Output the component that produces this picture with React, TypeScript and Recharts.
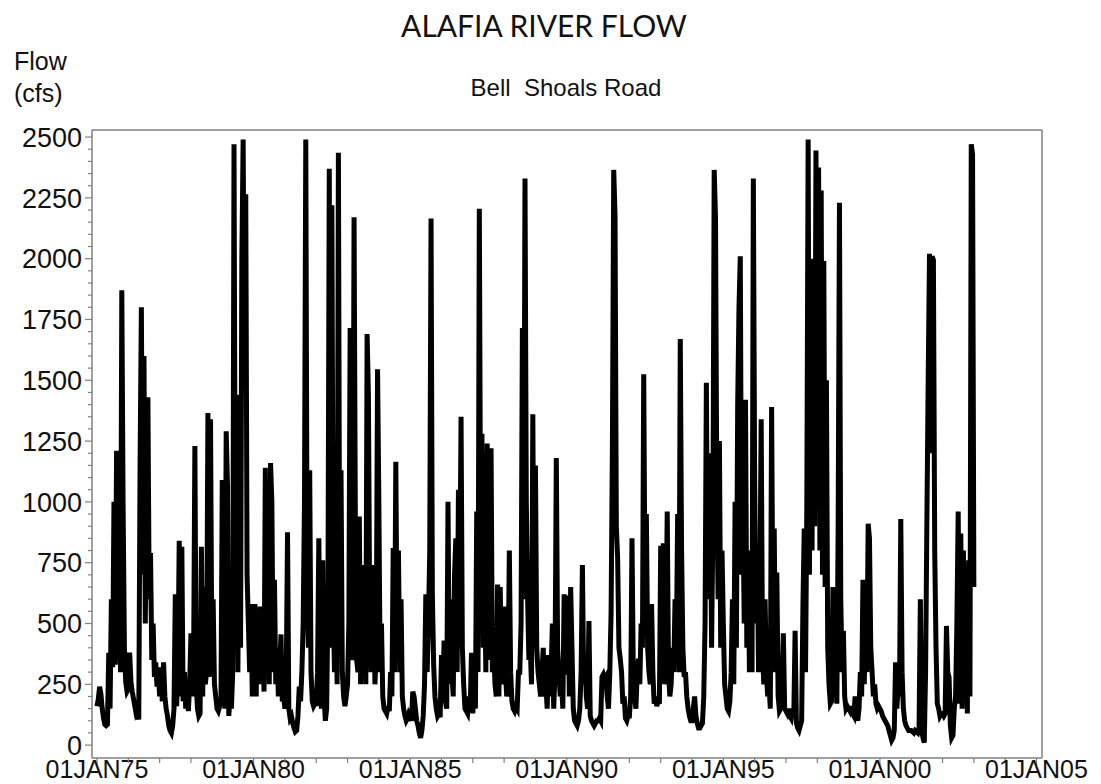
import React from 'react'
import { LineChart, Line, XAxis, YAxis, ReferenceLine } from 'recharts'

// Daily flow, thinned to two readings a month (cfs), 24 values per calendar year
const flow1975 = [160, 190, 240, 210, 150, 110, 85, 80, 85, 380, 150, 600, 320, 1000, 330, 1210, 350, 1200, 300, 1870, 980, 400, 260, 220]
const flow1976 = [230, 380, 260, 220, 190, 160, 130, 140, 105, 1150, 1800, 700, 1600, 500, 1000, 1430, 600, 790, 350, 500, 280, 340, 240, 300]
const flow1977 = [200, 320, 180, 340, 200, 150, 120, 80, 60, 50, 80, 150, 620, 160, 300, 840, 200, 815, 180, 300, 150, 250, 140, 250]
const flow1978 = [460, 200, 300, 1230, 250, 150, 120, 130, 815, 200, 650, 250, 300, 1365, 280, 1340, 350, 600, 250, 200, 150, 140, 160, 180]
const flow1979 = [1090, 250, 150, 1290, 1065, 120, 200, 150, 300, 2470, 700, 1200, 300, 1440, 400, 2000, 2490, 1500, 2265, 700, 500, 300, 580, 200]
const flow1980 = [300, 580, 200, 560, 250, 570, 300, 500, 220, 1140, 300, 600, 250, 1160, 1000, 300, 680, 250, 400, 200, 300, 455, 180, 200]
const flow1981 = [150, 250, 875, 150, 110, 120, 90, 70, 55, 60, 120, 240, 180, 300, 500, 1000, 2490, 700, 400, 1130, 300, 180, 160, 170]
const flow1982 = [170, 300, 850, 250, 150, 760, 200, 100, 150, 600, 2370, 400, 2220, 600, 300, 855, 250, 2435, 500, 1130, 300, 200, 160, 200]
const flow1983 = [250, 500, 1715, 350, 400, 2170, 900, 350, 300, 940, 250, 740, 300, 500, 250, 1690, 1440, 500, 300, 400, 740, 250, 400, 1545]
const flow1984 = [1000, 300, 500, 200, 150, 140, 130, 160, 140, 300, 200, 810, 300, 1165, 400, 800, 300, 600, 200, 150, 120, 100, 110, 130]
const flow1985 = [120, 100, 220, 200, 150, 100, 80, 50, 30, 60, 120, 250, 620, 300, 500, 800, 2165, 620, 330, 200, 150, 120, 130, 115]
const flow1986 = [370, 200, 430, 180, 150, 1000, 250, 600, 300, 200, 700, 850, 300, 1050, 600, 1350, 400, 250, 150, 140, 130, 200, 150, 380]
const flow1987 = [130, 250, 150, 960, 300, 2205, 800, 1280, 400, 700, 300, 1240, 500, 350, 1220, 300, 400, 250, 200, 660, 200, 650, 300, 250]
const flow1988 = [570, 300, 200, 250, 800, 300, 180, 150, 140, 160, 150, 300, 300, 500, 1715, 600, 2330, 1000, 600, 350, 400, 250, 1360, 400]
const flow1989 = [1150, 400, 300, 250, 200, 300, 400, 200, 250, 150, 370, 200, 300, 500, 150, 300, 1180, 400, 300, 200, 250, 150, 620, 300]
const flow1990 = [300, 615, 200, 650, 400, 150, 100, 90, 80, 100, 150, 300, 740, 250, 350, 200, 150, 510, 120, 100, 90, 80, 90, 100]
const flow1991 = [100, 110, 100, 280, 290, 270, 280, 200, 150, 300, 550, 1240, 2365, 2180, 900, 770, 400, 355, 300, 170, 200, 110, 100, 120]
const flow1992 = [120, 200, 850, 300, 200, 150, 300, 355, 250, 500, 400, 1525, 600, 950, 400, 300, 250, 580, 300, 170, 200, 160, 180, 170]
const flow1993 = [820, 300, 830, 250, 400, 960, 300, 200, 250, 400, 300, 600, 400, 950, 300, 1670, 800, 400, 280, 300, 200, 150, 120, 100]
const flow1994 = [100, 150, 200, 120, 90, 70, 70, 80, 90, 200, 500, 1490, 600, 800, 1200, 400, 900, 2365, 2170, 1050, 600, 1250, 400, 800]
const flow1995 = [500, 250, 200, 150, 140, 180, 300, 600, 250, 1000, 400, 1400, 1800, 2010, 700, 1000, 500, 1420, 400, 800, 300, 600, 300, 2330]
const flow1996 = [1100, 500, 800, 300, 600, 1340, 400, 250, 600, 300, 200, 250, 150, 1390, 500, 890, 300, 710, 200, 140, 150, 250, 460, 150]
const flow1997 = [140, 130, 150, 120, 110, 150, 120, 470, 90, 70, 60, 80, 100, 570, 890, 300, 1000, 2490, 700, 1900, 800, 2000, 900, 2445]
const flow1998 = [1100, 2375, 800, 2280, 700, 1990, 650, 1500, 400, 250, 170, 180, 650, 200, 570, 170, 900, 2230, 600, 300, 470, 200, 150, 160]
const flow1999 = [150, 140, 160, 130, 120, 200, 130, 100, 150, 300, 200, 680, 250, 500, 300, 910, 850, 400, 300, 200, 250, 170, 150, 160]
const flow2000 = [150, 140, 120, 110, 100, 90, 80, 60, 40, 20, 30, 60, 340, 150, 250, 200, 930, 300, 150, 100, 80, 70, 60, 60]
const flow2001 = [60, 55, 50, 60, 55, 50, 70, 600, 60, 30, 10, 300, 920, 1500, 2020, 1200, 2010, 1995, 800, 400, 170, 150, 120, 130]
const flow2002 = [130, 120, 130, 490, 300, 280, 80, 30, 40, 150, 200, 500, 960, 170, 870, 150, 800, 180, 640, 130, 760, 200, 2470, 2430]
const flow2003 = [650]

const flowByYear = [
  flow1975, flow1976, flow1977, flow1978, flow1979, flow1980, flow1981, flow1982,
  flow1983, flow1984, flow1985, flow1986, flow1987, flow1988, flow1989, flow1990,
  flow1991, flow1992, flow1993, flow1994, flow1995, flow1996, flow1997, flow1998,
  flow1999, flow2000, flow2001, flow2002, flow2003,
]
const firstYear = 1975
const readingsPerYear = 24

const tickYears = [1975, 1976, 1977, 1978, 1979, 1980, 1981, 1982, 1983, 1984, 1985, 1986, 1987, 1988, 1989, 1990,
  1991, 1992, 1993, 1994, 1995, 1996, 1997, 1998, 1999, 2000, 2001, 2002, 2003, 2004, 2005]
const labelYears = [1975, 1980, 1985, 1990, 1995, 2000, 2005]
const yLabels = [0, 250, 500, 750, 1000, 1250, 1500, 1750, 2000, 2250, 2500]
const yMinorStep = 50

const X_MIN = 1974.84
const X_MAX = 2005.176
const Y_MIN = -53
const Y_MAX = 2529

const FRAME = '#808080'
const FONT = '"Liberation Sans", Arial, sans-serif'

const data = flowByYear.flatMap((vals, k) =>
  vals.map((v, i) => ({ t: firstYear + k + i / readingsPerYear, flow: v }))
)

const yTicks: number[] = []
for (let v = 0; v <= 2500; v += yMinorStep) yTicks.push(v)

function YTick(props: any) {
  const { x, y, payload } = props
  const major = yLabels.includes(payload.value)
  return (
    <g>
      <line x1={x - (major ? 7 : 4)} x2={x} y1={y} y2={y} stroke={FRAME} strokeWidth={1.2} />
      {major && (
        <text x={x - 10} y={y} dy="0.36em" textAnchor="end" fontFamily={FONT} fontSize={27} fill="#111">
          {payload.value}
        </text>
      )}
    </g>
  )
}

function XTick(props: any) {
  const { x, y, payload } = props
  const major = labelYears.includes(payload.value)
  return (
    <g>
      <line x1={x} x2={x} y1={y} y2={y + (major ? 7 : 5)} stroke={FRAME} strokeWidth={1.2} />
      {major && (
        <text x={x} y={y + 20} textAnchor="middle" fontFamily={FONT} fontSize={25} fill="#111">
          {'01JAN' + String(payload.value).slice(2)}
        </text>
      )}
    </g>
  )
}

export default function App() {
  return (
    <div style={{ position: 'absolute', left: 0, top: 0, width: 1101, height: 784, background: '#fff' }}>
      <LineChart width={1101} height={784} data={data} margin={{ top: 130, right: 59, bottom: 0, left: 0 }}>
        <XAxis
          type="number"
          dataKey="t"
          domain={[X_MIN, X_MAX]}
          ticks={tickYears}
          interval={0}
          height={26}
          tickSize={0}
          tickMargin={0}
          tickLine={false}
          axisLine={{ stroke: FRAME, strokeWidth: 1.5 }}
          tick={<XTick />}
        />
        <YAxis
          type="number"
          domain={[Y_MIN, Y_MAX]}
          ticks={yTicks}
          interval={0}
          width={92}
          tickSize={0}
          tickMargin={0}
          tickLine={false}
          axisLine={{ stroke: FRAME, strokeWidth: 1.5 }}
          tick={<YTick />}
        />
        <ReferenceLine y={Y_MAX} stroke={FRAME} strokeWidth={1.5} ifOverflow="visible" />
        <ReferenceLine x={X_MAX} stroke={FRAME} strokeWidth={1.5} ifOverflow="visible" />
        <Line
          type="linear"
          dataKey="flow"
          stroke="#000"
          strokeWidth={5}
          dot={false}
          isAnimationActive={false}
        />
      </LineChart>
      <svg width={1101} height={130} style={{ position: 'absolute', left: 0, top: 0, pointerEvents: 'none' }}>
        <text x={544} y={37} textAnchor="middle" fontFamily="Lato, sans-serif" fontSize={30} fill="#111">
          ALAFIA RIVER FLOW
        </text>
        <text x={14} y={70} fontFamily={FONT} fontSize={25} fill="#111">Flow</text>
        <text x={14} y={102} fontFamily={FONT} fontSize={25} fill="#111">(cfs)</text>
        <text x={566} y={96} textAnchor="middle" fontFamily={FONT} fontSize={24} fill="#111">
          {'Bell\u00a0 Shoals Road'}
        </text>
      </svg>
    </div>
  )
}
